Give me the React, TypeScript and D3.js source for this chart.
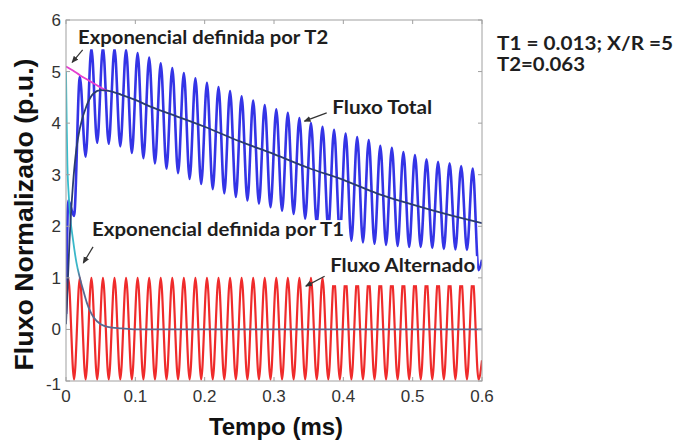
import * as d3 from 'd3'

const W = 675
const H = 441

const X_TICKS = [0, 0.1, 0.2, 0.3, 0.4, 0.5, 0.6]
const Y_TICKS = [-1, 0, 1, 2, 3, 4, 5, 6]

// 60 Hz: crests and troughs follow each other every half period
const HALF_PERIOD = 1 / 120
const FIRST_CREST = 0.0033
const T_END = 0.6

// Fluxo Total (blue), crest and trough heights
const totalStart = 0.3
const totalCrests = [2.5, 4.9, 5.45, 5.47, 5.45, 5.42, 5.36, 5.27, 5.16, 5.07, 4.97, 4.87,
  4.78, 4.7, 4.62, 4.52, 4.44, 4.35, 4.27, 4.2, 4.1, 4.0, 3.93, 3.87,
  3.8, 3.73, 3.67, 3.56, 3.52, 3.44, 3.38, 3.3, 3.25, 3.22, 3.17, 3.12]
const totalTroughs = [2.2, 3.35, 3.62, 3.6, 3.55, 3.42, 3.32, 3.22, 3.12, 3.03, 2.92, 2.82,
  2.72, 2.64, 2.57, 2.5, 2.44, 2.37, 2.3, 2.24, 2.15, 2.05, 1.95, 1.85,
  1.72, 1.69, 1.66, 1.64, 1.62, 1.6, 1.6, 1.58, 1.56, 1.55, 1.54, 1.15]
const totalEnd = 1.35

// Fluxo Alternado (red)
const altStart = 0.3
const altCrests = [1, 1, 1, 1, 1, 1, 1, 1, 1, 1, 1, 1,
  1, 1, 1, 1, 1, 1, 1, 1, 1, 1, 1, 1,
  1, 1, 1, 1, 1, 1, 1, 1, 1, 1, 1, 1]
const altTroughs = [-0.97, -0.97, -0.97, -0.97, -0.97, -0.97, -0.97, -0.97, -0.97, -0.97, -0.97, -0.97,
  -0.97, -0.97, -0.97, -0.97, -0.97, -0.97, -0.97, -0.97, -0.97, -0.97, -0.97, -0.97,
  -0.97, -0.97, -0.97, -0.97, -0.97, -0.97, -0.97, -0.97, -0.97, -0.97, -0.97, -0.97]
const altEnd = -0.6

// mean of the total flux (dark line)
const meanT = [0, 0.005, 0.01, 0.015, 0.02, 0.03, 0.04, 0.05, 0.06, 0.08, 0.1, 0.12, 0.15,
  0.2, 0.25, 0.3, 0.35, 0.4, 0.45, 0.5, 0.55, 0.6]
const meanV = [0.1, 1.7, 2.8, 3.5, 3.9, 4.35, 4.58, 4.64, 4.63, 4.55, 4.45, 4.33, 4.18,
  3.93, 3.65, 3.4, 3.13, 2.9, 2.63, 2.42, 2.23, 2.06]

// exponential with T2 (magenta)
const expT2T = [0, 0.01, 0.02, 0.03, 0.04, 0.05, 0.06]
const expT2V = [5.1, 5.02, 4.93, 4.85, 4.77, 4.69, 4.62]

// exponential with T1 (cyan)
const expT1T = [0, 0.001, 0.002, 0.004, 0.006, 0.01, 0.015, 0.02, 0.025, 0.03, 0.035, 0.04,
  0.05, 0.06, 0.08, 0.1, 0.6]
const expT1V = [5.0, 4.0, 3.2, 2.6, 2.2, 1.75, 1.3, 1.0, 0.75, 0.52, 0.35, 0.23,
  0.1, 0.05, 0.02, 0, 0]

// text notes, anchored in data units
const notes = [
  { text: 'Exponencial definida por T2', t: 0.0175, v: 5.53, w: 250, below: 5, from: [0.024, 5.42], to: [0.009, 5.18] },
  { text: 'Fluxo Total', t: 0.384, v: 4.18, w: 100, below: 4, from: [0.376, 4.2], to: [0.344, 4.04] },
  { text: 'Exponencial definida por T1', t: 0.0375, v: 1.81, w: 252, below: 13, from: [0.039, 1.6], to: [0.025, 1.29] },
  { text: 'Fluxo Alternado', t: 0.381, v: 1.11, w: 145, below: 13, from: [0.373, 1.03], to: [0.346, 0.84] },
]

export default function App() {
  const left = 66, right = 482, top = 20, bottom = 381

  const x = d3.scaleLinear().domain([0, T_END]).range([left, right])
  const y = d3.scaleLinear().domain([-1, 6]).range([bottom, top])

  const osc = (start, crests, troughs, end) => {
    const pts = [[0, start]]
    crests.forEach((c, j) => {
      pts.push([FIRST_CREST + 2 * j * HALF_PERIOD, c])
      pts.push([FIRST_CREST + (2 * j + 1) * HALF_PERIOD, troughs[j]])
    })
    pts.push([T_END, end])
    return pts
  }

  const line = d3.line().x(d => x(d[0])).y(d => y(d[1])).curve(d3.curveMonotoneX)
  const zip = (ts, vs) => ts.map((t, i) => [t, vs[i]])

  const total = line(osc(totalStart, totalCrests, totalTroughs, totalEnd))
  const alt = line(osc(altStart, altCrests, altTroughs, altEnd))
  const mean = line(zip(meanT, meanV))
  const e2 = line(zip(expT2T, expT2V))
  const e1 = line(zip(expT1T, expT1V))

  const g1 = (y(1.2) - y(5)) / (y(0) - y(5))

  return (
    <svg width={W} height={H} style={{ position: 'absolute', left: 0, top: 0, background: '#fff' }}>
      <defs>
        <clipPath id="plot">
          <rect x={left} y={top} width={right - left} height={bottom - top} />
        </clipPath>
        <linearGradient id="t1grad" gradientUnits="userSpaceOnUse" x1={0} y1={y(5)} x2={0} y2={y(0)}>
          <stop offset={0} stopColor="#2fc4d2" />
          <stop offset={g1} stopColor="#3bb6c8" />
          <stop offset={g1 + 0.04} stopColor="#5a6890" />
          <stop offset={1} stopColor="#5a6890" />
        </linearGradient>
        <marker id="arr" markerWidth="7" markerHeight="7" refX="6" refY="3.5" orient="auto" markerUnits="userSpaceOnUse">
          <path d="M0,0.5 L7,3.5 L0,6.5 z" fill="#333" />
        </marker>
      </defs>

      <g clipPath="url(#plot)" fill="none" strokeLinejoin="round">
        <path d={total} stroke="#3434e6" strokeWidth={2.6} />
        <path d={alt} stroke="#ef2b2b" strokeWidth={2.2} />
        <path d={e1} stroke="url(#t1grad)" strokeWidth={1.8} />
        <path d={e2} stroke="#e63fd0" strokeWidth={1.8} />
        <path d={mean} stroke="#2a3c70" strokeWidth={1.8} />
      </g>

      {/* frame and ticks */}
      <rect x={left} y={top} width={right - left} height={bottom - top} fill="none" stroke="#a0a0a0" strokeWidth={1} />
      {X_TICKS.map(t => (
        <g key={'x' + t} stroke="#a0a0a0">
          <line x1={x(t)} x2={x(t)} y1={bottom} y2={bottom - 4} />
          <line x1={x(t)} x2={x(t)} y1={top} y2={top + 4} />
        </g>
      ))}
      {Y_TICKS.map(v => (
        <g key={'y' + v} stroke="#a0a0a0">
          <line x1={left} x2={left + 4} y1={y(v)} y2={y(v)} />
          <line x1={right} x2={right - 4} y1={y(v)} y2={y(v)} />
        </g>
      ))}

      <g fontFamily="Liberation Sans, Arial, sans-serif" fontSize={17} fill="#333">
        {X_TICKS.map(t => (
          <text key={'xl' + t} x={x(t)} y={bottom + 21} textAnchor="middle">{t}</text>
        ))}
        {Y_TICKS.map(v => (
          <text key={'yl' + v} x={left - 5} y={y(v) + (v === -1 ? 9 : 6)} textAnchor="end">{v}</text>
        ))}
      </g>

      {/* notes */}
      <g fontFamily="Lato, Open Sans, sans-serif" fontWeight={700} fontSize={19} fill="#1e1e1e">
        {notes.map(n => (
          <g key={n.text}>
            <rect x={x(n.t) - 2} y={y(n.v) - 16} width={n.w + 4} height={16 + n.below} fill="#fff" />
            <text x={x(n.t)} y={y(n.v)} textLength={n.w} lengthAdjust="spacingAndGlyphs">{n.text}</text>
            <line x1={x(n.from[0])} y1={y(n.from[1])} x2={x(n.to[0])} y2={y(n.to[1])}
              stroke="#333" strokeWidth={1.2} markerEnd="url(#arr)" />
          </g>
        ))}
        <text x={497} y={50} textLength={176} lengthAdjust="spacingAndGlyphs">T1 = 0.013; X/R =5</text>
        <text x={497} y={71} textLength={88} lengthAdjust="spacingAndGlyphs">T2=0.063</text>
      </g>

      {/* axis titles */}
      <g fontFamily="Liberation Sans, Arial, sans-serif" fontWeight="bold" fill="#111">
        <text x={(left + right) / 2 + 2} y={435} fontSize={24} textAnchor="middle">Tempo (ms)</text>
        <text transform={`translate(33,${(top + bottom) / 2 + 14}) rotate(-90)`} fontSize={26}
          textAnchor="middle" textLength={312} lengthAdjust="spacingAndGlyphs">Fluxo Normalizado (p.u.)</text>
      </g>
    </svg>
  )
}
